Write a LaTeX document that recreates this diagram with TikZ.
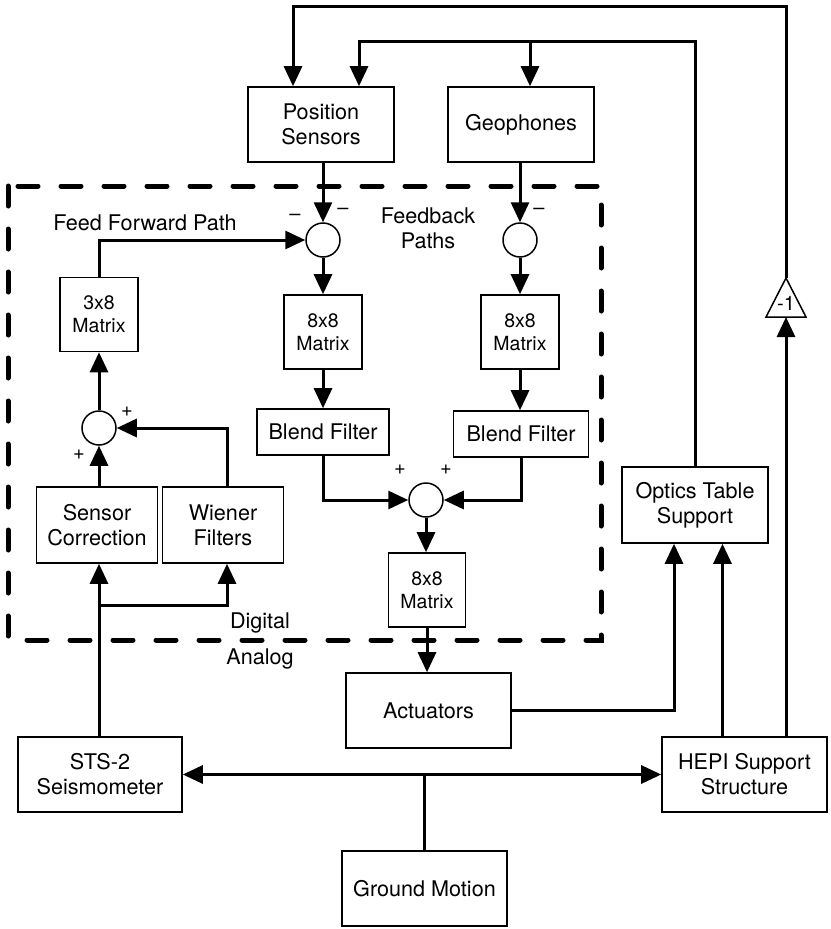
\documentclass[tikz,border=0pt]{standalone}
\usepackage{fontspec}
\setmainfont{TeX Gyre Heros}
\usetikzlibrary{arrows.meta}

\begin{document}
\begin{tikzpicture}[x=1pt, y=-1pt,
  box/.style={draw, line width=1.6pt, inner sep=0pt, align=center, font=\fontsize{21.6}{25}\selectfont},
  mat/.style={box, minimum width=78pt, minimum height=74pt, font=\fontsize{19.5}{23}\selectfont},
  sum/.style={circle, draw, line width=1.5pt, minimum size=34pt, inner sep=0pt},
  sgn/.style={font=\fontsize{20}{22}\selectfont, inner sep=0pt},
  lbl/.style={font=\fontsize{21.6}{25}\selectfont, align=center, inner sep=0pt},
  flow/.style={line width=3pt, -{Triangle[length=20pt, width=18pt]}},
  both/.style={line width=3pt, {Triangle[length=20pt, width=18pt]}-{Triangle[length=20pt, width=18pt]}},
  wire/.style={line width=3pt}]
\useasboundingbox (0,0) rectangle (830,929);

% digital part
\draw[line width=5pt, line cap=round, dash pattern=on 20pt off 23pt] (8,186) rectangle (601,640);

\node[box, minimum width=146pt, minimum height=75pt] (ps) at (321,124.5) {Position\\Sensors};
\node[box, minimum width=146pt, minimum height=75pt] (geo) at (521,124.5) {Geophones};
\node[sum] (s1) at (323,240) {};
\node[sum] (s2) at (520,240) {};
\node[mat] (m38) at (99,314.5) {3x8\\Matrix};
\node[mat] (m1) at (323,332) {8x8\\Matrix};
\node[mat] (m2) at (520,332) {8x8\\Matrix};
\node[box, minimum width=132pt, minimum height=46pt] (bf1) at (323,432) {Blend Filter};
\node[box, minimum width=135pt, minimum height=46pt] (bf2) at (521,434) {Blend Filter};
\node[sum] (s3) at (99,428) {};
\node[box, minimum width=121pt, minimum height=76pt] (sc) at (97,525) {Sensor\\Correction};
\node[box, minimum width=121pt, minimum height=76pt] (wf) at (223,525) {Wiener\\Filters};
\node[sum] (s4) at (426,500) {};
\node[mat, minimum width=77pt] (m3) at (427,590) {8x8\\Matrix};
\node[box, minimum width=165pt, minimum height=75pt] (act) at (428.5,710.5) {Actuators};
\node[box, minimum width=146pt, minimum height=76pt] (ots) at (695,505) {Optics Table\\Support};
\node[box, minimum width=164pt, minimum height=75pt] (sts) at (100,774.5) {STS-2\\Seismometer};
\node[box, minimum width=165pt, minimum height=75pt] (hepi) at (744.5,774.5) {HEPI Support\\Structure};
\node[box, minimum width=165pt, minimum height=75pt] (gm) at (424.5,888.5) {Ground Motion};

% the -1 gain
\coordinate (negtop) at (786,278);
\coordinate (negbot) at (786,317);
\draw[line width=1.5pt] (766,317) -- (negtop) -- (806,317) -- cycle;
\node[sgn] (neg) at (786,303) {-1};

\coordinate (top1) at (786,6);
\coordinate (top2) at (695,41);
\coordinate (br) at (99,605);

% loops over the top
\draw[flow] (negtop) -- (top1) -| ([xshift=-28pt]ps.north);
\draw[flow] (ots.north) -- (top2) -| ([xshift=38pt]ps.north);
\draw[flow] ([xshift=9pt]geo.north |- top2) -- ([xshift=9pt]geo.north);

% feedback paths
\draw[flow] (ps.south -| s1) -- (s1.north);
\draw[flow] (geo.south -| s2) -- (s2.north);
\draw[flow] (s1) -- (m1);
\draw[flow] (s2) -- (m2);
\draw[flow] (m1) -- (bf1);
\draw[flow] (m2) -- (bf2.north -| m2);
\draw[flow] (bf1) |- (s4);
\draw[flow] (bf2) |- (s4);
\draw[flow] (s4) -- (s4 |- m3.north);
\draw[flow] (m3.south) -- (m3.south |- act.north);

% feed forward path
\draw[flow] (sts.north -| s3) -- (sc.south -| s3);
\draw[flow] (br) -| ([xshift=4pt]wf.south);
\draw[flow] (sc.north -| s3) -- (s3.south);
\draw[flow] ([xshift=4pt]wf.north) |- (s3.east);
\draw[flow] (s3) -- (m38);
\draw[flow] (m38) |- (s1);

% plant
\draw[flow] (act) -| ([xshift=-21pt]ots.south);
\draw[flow] ([xshift=-22pt]hepi.north) -- ([xshift=-22pt]hepi.north |- ots.south);
\draw[flow] (hepi.north -| negbot) -- (negbot);
\draw[wire] (gm.north) -- (gm.north |- sts.east);
\draw[both] (sts.east) -- (hepi.west);

% signs and labels
\node[sgn] (sg1) at (295,217) {--};
\node[sgn] (sg2) at (343,211) {--};
\node[sgn] (sg3) at (539,211) {--};
\node[sgn] (sg4) at (127,412) {+};
\node[sgn] (sg5) at (79,455) {+};
\node[sgn] (sg6) at (400,470) {+};
\node[sgn] (sg7) at (446,470) {+};
\node[lbl] (ffp) at (145,223) {Feed Forward Path};
\node[lbl] (fbp) at (428,228) {Feedback\\Paths};
\node[lbl] (dig) at (260,623) {Digital};
\node[lbl] (ana) at (260,659) {Analog};
\end{tikzpicture}
\end{document}
